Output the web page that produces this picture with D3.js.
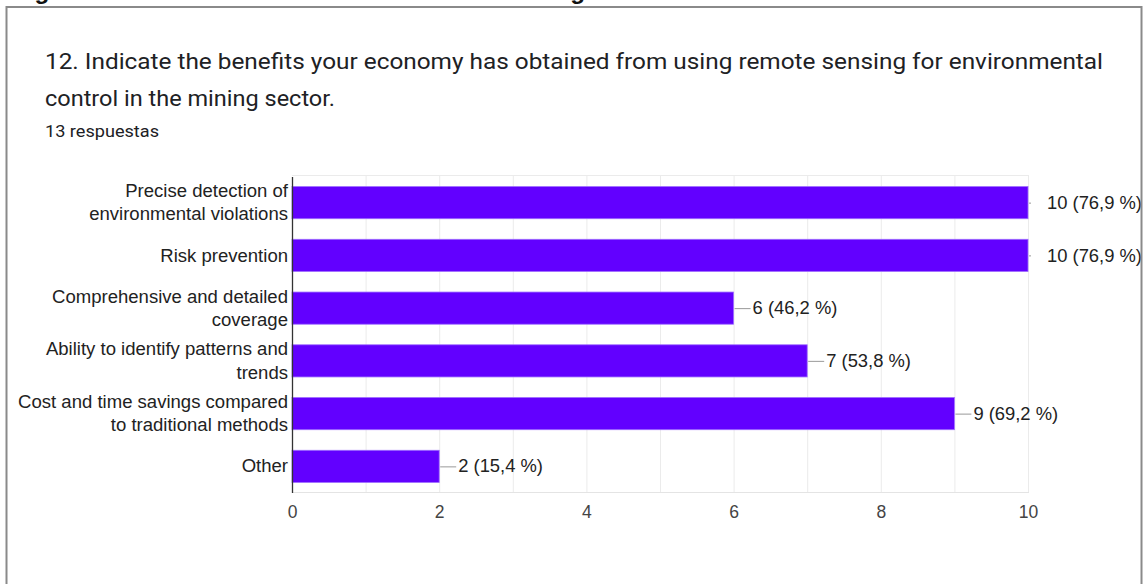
<!DOCTYPE html>
<html>
<head>
<meta charset="utf-8">
<script src="https://cdn.jsdelivr.net/npm/d3@7"></script>
<style>
  html, body { margin: 0; padding: 0; background: #fff; }
  svg { display: block; }
</style>
</head>
<body>
<svg id="chart" width="1143" height="584"></svg>
<script>
// Survey question 12: benefits of remote sensing for environmental control in mining
const categories = [
  "Precise detection of\nenvironmental violations",
  "Risk prevention",
  "Comprehensive and detailed\ncoverage",
  "Ability to identify patterns and\ntrends",
  "Cost and time savings compared\nto traditional methods",
  "Other"
];
const counts = [10, 10, 6, 7, 9, 2];
const totalResponses = 13;
const xTicks = [0, 2, 4, 6, 8, 10];
const questionLines = [
  "12. Indicate the benefits your economy has obtained from using remote sensing for environmental",
  "control in the mining sector."
];
const responsesLabel = totalResponses + " respuestas";
const headingText = "Figure 12. Benefits obtained from remote sensing";

const svg = d3.select("#chart");

// Page heading, mostly above the visible area
const heading = svg.append("text")
  .attr("x", 0).attr("y", -1)
  .attr("font-family", "Liberation Sans, Arial, sans-serif")
  .attr("font-weight", "bold")
  .attr("font-size", 24)
  .attr("fill", "#111")
  .text(headingText);
(function placeHeading() {
  const node = heading.node();
  const g1 = headingText.indexOf("g"), g2 = headingText.lastIndexOf("g");
  const c = i => (node.getStartPositionOfChar(i).x + node.getEndPositionOfChar(i).x) / 2;
  heading.attr("font-size", 24 * 536 / (c(g2) - c(g1)));
  heading.attr("x", 42 - c(g1));
})();

// Question text, fitted to its line widths
const qWidths = [1058, 290];
svg.selectAll("text.question")
  .data(questionLines)
  .join("text")
  .attr("class", "question")
  .attr("x", 45)
  .attr("y", (d, i) => 69 + i * 37)
  .attr("font-family", "Roboto, Arial, sans-serif")
  .attr("font-size", 22.5)
  .attr("fill", "#202124")
  .attr("textLength", (d, i) => qWidths[i])
  .attr("lengthAdjust", "spacingAndGlyphs")
  .text(d => d);

svg.append("text")
  .attr("x", 45).attr("y", 137)
  .attr("font-family", "Roboto, Arial, sans-serif")
  .attr("font-size", 16.5)
  .attr("fill", "#202124")
  .attr("textLength", 114)
  .attr("lengthAdjust", "spacingAndGlyphs")
  .text(responsesLabel);

// Plot area
const plot = { left: 292, right: 1028, top: 175, bottom: 492 };
const x = d3.scaleLinear().domain([0, 10]).range([plot.left, plot.right]);
const y = d3.scaleBand()
  .domain(categories)
  .range([plot.top + 1, plot.bottom + 1])
  .paddingInner(0.39)
  .paddingOuter(0.2);

const labelFont = "Liberation Sans, Arial, Helvetica, sans-serif";
const labelSize = 17.5;
const stretch = 1.05;

// Gridlines at every unit
svg.append("g")
  .selectAll("line")
  .data(d3.range(1, 11))
  .join("line")
  .attr("x1", d => x(d) + 0.5).attr("x2", d => x(d) + 0.5)
  .attr("y1", plot.top).attr("y2", plot.bottom)
  .attr("stroke", "#ebebeb")
  .attr("stroke-width", 1);

// Top and bottom plot edges
svg.append("line")
  .attr("x1", plot.left).attr("x2", plot.right + 1)
  .attr("y1", plot.top + 0.5).attr("y2", plot.top + 0.5)
  .attr("stroke", "#ebebeb");
svg.append("line")
  .attr("x1", plot.left).attr("x2", plot.right + 1)
  .attr("y1", plot.bottom + 0.5).attr("y2", plot.bottom + 0.5)
  .attr("stroke", "#e4e4e4");

// Bars
svg.append("g")
  .selectAll("rect")
  .data(categories)
  .join("rect")
  .attr("x", x(0))
  .attr("y", d => y(d))
  .attr("width", (d, i) => x(counts[i]) - x(0))
  .attr("height", y.bandwidth())
  .attr("fill", "#6200ff")
  .attr("stroke", "#9e6dff")
  .attr("stroke-width", 0.8);

// Baseline axis
svg.append("line")
  .attr("x1", plot.left + 0.5).attr("x2", plot.left + 0.5)
  .attr("y1", plot.top + 2).attr("y2", plot.bottom + 1)
  .attr("stroke", "#333")
  .attr("stroke-width", 1.3);

// X axis tick labels
const xAxis = d3.axisBottom(x).tickValues(xTicks).tickSize(0).tickPadding(0);
const xg = svg.append("g")
  .attr("transform", `translate(0, ${plot.bottom + 14})`)
  .call(xAxis);
xg.select(".domain").remove();
xg.selectAll("text")
  .attr("font-family", labelFont)
  .attr("font-size", 17.5)
  .attr("fill", "#444")
  .attr("dy", "0.71em");

// Category labels, right aligned, wrapped on line breaks
const catG = svg.append("g");
categories.forEach((c) => {
  const lines = c.split("\n");
  const cy = y(c) + y.bandwidth() / 2;
  const lh = 23.5;
  const t = catG.append("g")
    .attr("transform", `translate(${plot.left - 4}, ${cy}) scale(1.06, 1)`)
    .append("text")
    .attr("text-anchor", "end")
    .attr("font-family", labelFont)
    .attr("font-size", labelSize)
    .attr("fill", "#222");
  lines.forEach((ln, j) => {
    t.append("tspan")
      .attr("x", 0)
      .attr("y", (j - (lines.length - 1) / 2) * lh)
      .attr("dy", "0.35em")
      .text(ln);
  });
});

// Value annotations with stems, clipped at the card edge
svg.append("clipPath").attr("id", "cardClip")
  .append("rect").attr("x", 0).attr("y", 0).attr("width", 1141).attr("height", 584);
const fmt = v => d3.format(".1f")(v).replace(".", ",");
const ann = svg.append("g").attr("clip-path", "url(#cardClip)");
categories.forEach((c, i) => {
  const cy = y(c) + y.bandwidth() / 2;
  const xe = x(counts[i]);
  const stemEnd = Math.min(xe + 17, plot.right + 3);
  ann.append("line")
    .attr("x1", xe + 1).attr("x2", stemEnd)
    .attr("y1", cy + 0.5).attr("y2", cy + 0.5)
    .attr("stroke", "#999")
    .attr("stroke-width", 1);
  ann.append("g")
    .attr("transform", `translate(${xe + 19}, ${cy}) scale(${stretch}, 1)`)
    .append("text")
    .attr("dy", "0.35em")
    .attr("font-family", labelFont)
    .attr("font-size", labelSize)
    .attr("fill", "#222")
    .text(`${counts[i]} (${fmt(counts[i] / totalResponses * 100)} %)`);
});

// Card frame
svg.append("rect")
  .attr("x", 6.5).attr("y", 7)
  .attr("width", 1135).attr("height", 620)
  .attr("fill", "none")
  .attr("stroke", "#8a8a8a")
  .attr("stroke-width", 2);
</script>
</body>
</html>
